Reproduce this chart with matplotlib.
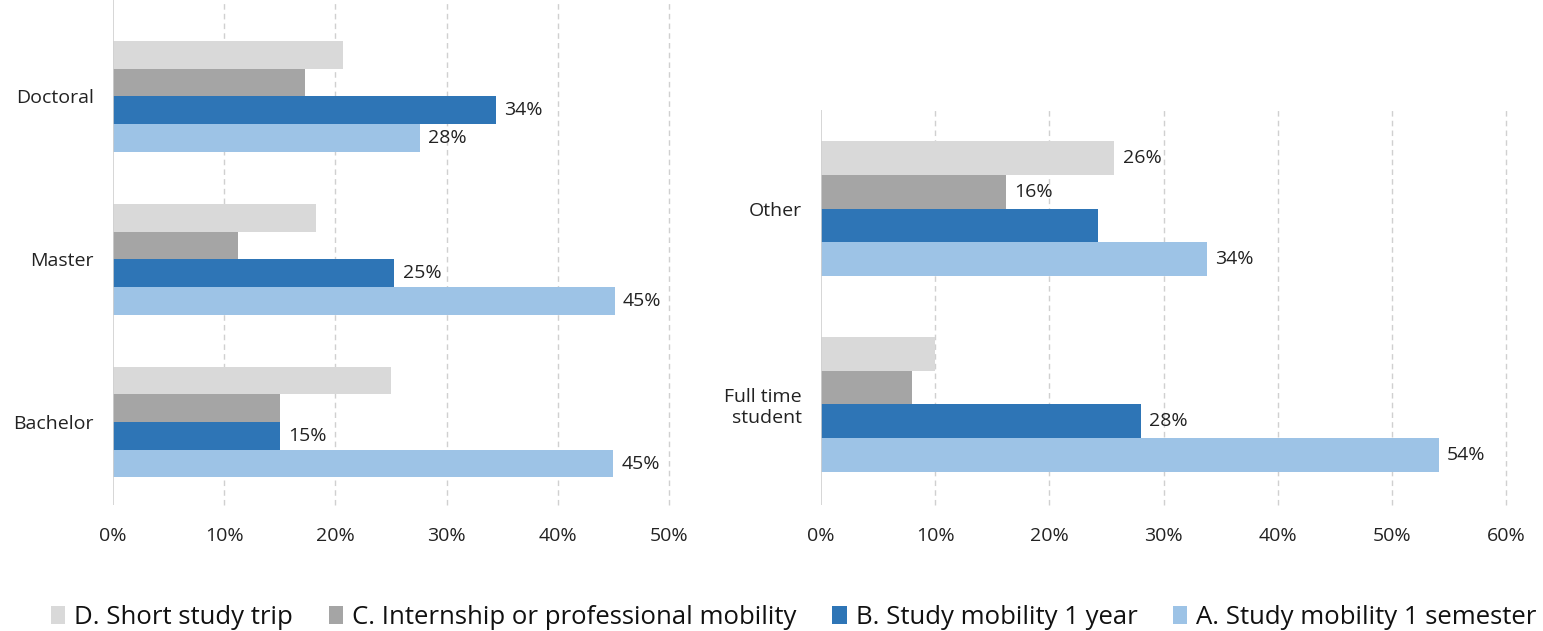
import numpy as np
import matplotlib
matplotlib.use("Agg")
import matplotlib.pyplot as plt
from matplotlib.ticker import FuncFormatter

plt.rcParams["font.family"] = ["Open Sans", "DejaVu Sans"]

# left panel: level of study (bottom to top)
levels = ["Bachelor", "Master", "Doctoral"]
trip_lvl = [25.0, 18.3, 20.7]
intern_lvl = [15.0, 11.2, 17.3]
year_lvl = [15.0, 25.3, 34.4]
semester_lvl = [45.0, 45.1, 27.6]

# right panel: student status (bottom to top)
status = ["Full time\nstudent", "Other"]
trip_st = [10.0, 25.7]
intern_st = [8.0, 16.2]
year_st = [28.0, 24.3]
semester_st = [54.1, 33.8]

series_names = ["D. Short study trip", "C. Internship or professional mobility",
                "B. Study mobility 1 year", "A. Study mobility 1 semester"]
colors = ["#D9D9D9", "#A5A5A5", "#2E75B6", "#9DC3E6"]

# which bars carry a value label
show_lvl = [[False] * 3, [False] * 3, [True] * 3, [True] * 3]
show_st = [[False, True], [False, True], [True, False], [True, True]]

fig = plt.figure(figsize=(15.43, 6.31), dpi=100)
ax1 = fig.add_axes([113 / 1543, 1 - 505 / 631, 556 / 1543, 505 / 631])
ax2 = fig.add_axes([821 / 1543, 1 - 505 / 631, 685 / 1543, 395 / 631])

FS = 14


def draw(ax, cats, data, shown, xmax, ylim, h):
    y = np.arange(len(cats))
    offsets = [1.5 * h, 0.5 * h, -0.5 * h, -1.5 * h]
    for vals, off, col, name, flags in zip(data, offsets, colors, series_names, shown):
        bars = ax.barh(y + off, vals, height=h, color=col, label=name, zorder=3)
        for b, v, f in zip(bars, vals, flags):
            if f:
                ax.annotate("%d%%" % round(v), (v, b.get_y() + h / 2),
                            xytext=(6, 0), textcoords="offset points",
                            va="center", ha="left", fontsize=FS, color="#222222")
    ax.set_xlim(0, xmax)
    ax.set_ylim(*ylim)
    ax.set_yticks(y)
    ax.set_yticklabels(cats, fontsize=FS, color="#222222")
    ax.set_xticks(np.arange(0, xmax + 1, 10))
    ax.xaxis.set_major_formatter(FuncFormatter(lambda v, p: "%d%%" % v))
    ax.tick_params(axis="x", length=0, pad=16, labelsize=FS, labelcolor="#222222")
    ax.tick_params(axis="y", length=0, pad=14)
    for s in ax.spines.values():
        s.set_visible(False)
    for t in ax.get_xticks()[1:]:
        ax.axvline(t, color="#D0D0D0", lw=1, ls=(0, (4, 3)), zorder=1, clip_on=False)
    ax.axvline(0, color="#D0D0D0", lw=1.2, zorder=4)


draw(ax1, levels, [trip_lvl, intern_lvl, year_lvl, semester_lvl], show_lvl,
     50, (-0.509, 2.592), 0.17)
draw(ax2, status, [trip_st, intern_st, year_st, semester_st], show_st,
     60, (-0.513, 1.503), 0.172)

handles, labels = ax1.get_legend_handles_labels()
fig.legend(handles, labels, loc="center", bbox_to_anchor=(794 / 1543, 1 - 617 / 631),
           ncol=4, frameon=False, fontsize=18.5, handlelength=0.55, handleheight=0.7,
           handletextpad=0.35, columnspacing=1.4, labelcolor="#111111")

fig.savefig("out.png", dpi=100)
